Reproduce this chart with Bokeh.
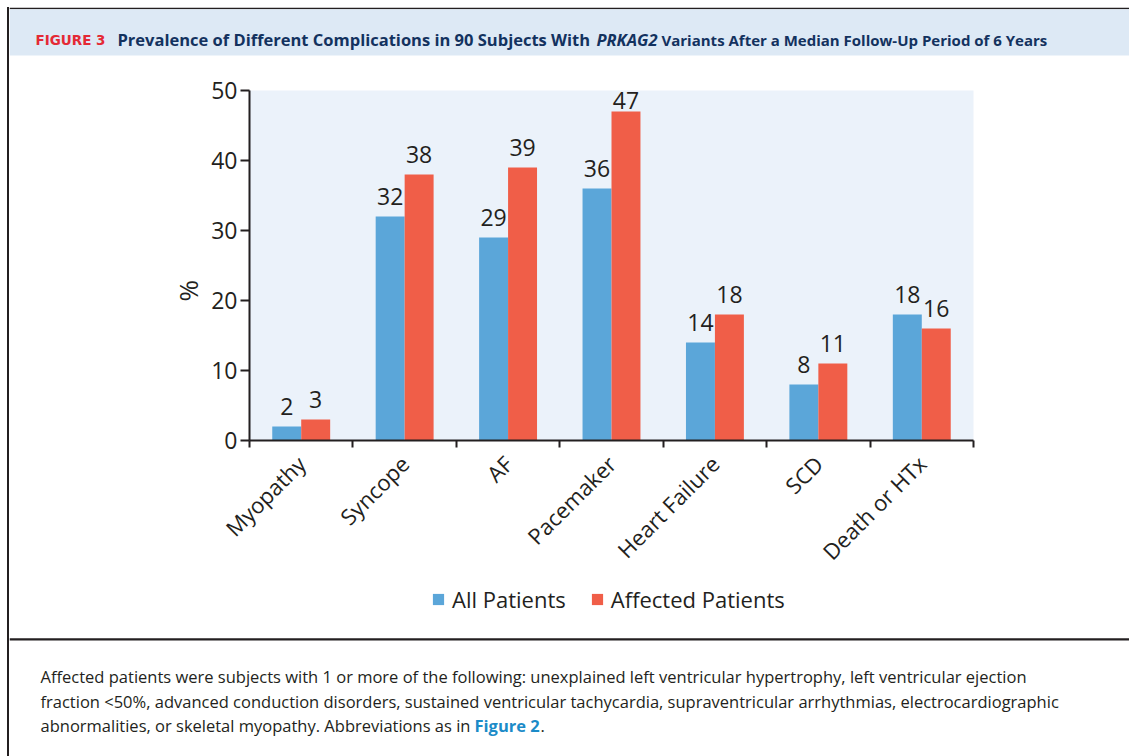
from math import pi
from bokeh.plotting import figure
from bokeh.models import (Range1d, LinearAxis, FixedTicker, Title,
                          ColumnDataSource, LabelSet, Legend, LegendItem, Label)
from bokeh.layouts import column, row
from bokeh.transform import dodge
from bokeh.core.properties import value
from bokeh.embed import file_html
from bokeh.resources import INLINE

# ---------------- data ----------------
categories = ["Myopathy", "Syncope", "AF", "Pacemaker", "Heart Failure", "SCD", "Death or HTx"]
all_patients = [2, 32, 29, 36, 14, 8, 18]
affected_patients = [3, 38, 39, 47, 18, 11, 16]
series_names = ["All Patients", "Affected Patients"]
y_ticks = [0, 10, 20, 30, 40, 50]

title_tag = "FIGURE 3"
title_parts = ["Prevalence of Different Complications in 90 Subjects With",
               "PRKAG2",
               "Variants After a Median Follow-Up Period of 6 Years"]
caption_lines = [
    "Affected patients were subjects with 1 or more of the following: unexplained left ventricular hypertrophy, left ventricular ejection",
    "fraction <50%, advanced conduction disorders, sustained ventricular tachycardia, supraventricular arrhythmias, electrocardiographic",
    "abnormalities, or skeletal myopathy. Abbreviations as in",
]
caption_link = "Figure 2"

# ---------------- styles ----------------
TEXT = "#231f20"
BLUE = "#5ba6d9"
RED = "#f05e48"
NAVY = "#13325f"
TAGRED = "#e42a35"
BAND = "#dde9f5"
PLOTBG = "#ebf2fa"
LINK = "#1b8bc8"
FONT = "Open Sans"
W = 1120


def blank(width, height):
    f = figure(width=width, height=height, x_range=Range1d(0, width), y_range=Range1d(height, 0),
               output_backend="svg", toolbar_location=None, x_axis_location=None,
               y_axis_location=None, min_border=0)
    f.grid.visible = False
    f.outline_line_color = None
    f.background_fill_color = "white"
    f.border_fill_color = "white"
    return f


# ---------------- header ----------------
hdr = blank(W, 51)
hdr.quad(left=0, right=W, top=0, bottom=1.7, color=TEXT, line_color=None)
hdr.quad(left=0, right=W, top=1.7, bottom=48, color=BAND, line_color=None)
hdr.add_layout(Label(x=26, y=32, text=title_tag, text_font="DejaVu Sans", text_font_style="bold",
                     text_font_size="13.5px", text_color=TAGRED, text_baseline="alphabetic"))
hdr.add_layout(Label(x=108, y=32, text=title_parts[0], text_font=FONT, text_font_style="bold",
                     text_font_size="16.5px", text_color=NAVY, text_baseline="alphabetic"))
hdr.add_layout(Label(x=587, y=32, text=title_parts[1], text_font=FONT, text_font_style="bold italic",
                     text_font_size="16.5px", text_color=NAVY, text_baseline="alphabetic"))
hdr.add_layout(Label(x=652, y=32, text=title_parts[2], text_font=FONT, text_font_style="bold",
                     text_font_size="15px", text_color=NAVY, text_baseline="alphabetic"))

# ---------------- main chart ----------------
n = len(categories)
centers = [i + 0.5 for i in range(n)]
edges = list(range(n + 1))
y_top = y_ticks[-1]

p = figure(x_range=Range1d(0, n), y_range=Range1d(0, y_top),
           frame_width=724, frame_height=350,
           output_backend="svg", toolbar_location=None,
           x_axis_location=None, y_axis_location=None,
           min_border_left=240, min_border_right=156, min_border_top=32, min_border_bottom=145)
p.grid.visible = False
p.outline_line_color = None
p.background_fill_color = PLOTBG
p.border_fill_color = "white"

yax = LinearAxis(ticker=FixedTicker(ticks=y_ticks),
                 axis_line_color=TEXT, axis_line_width=2,
                 major_tick_line_color=TEXT, major_tick_line_width=2,
                 major_tick_in=0, major_tick_out=9, minor_tick_line_color=None,
                 major_label_standoff=3, major_label_text_font=FONT,
                 major_label_text_font_size="23px", major_label_text_color=TEXT)
p.add_layout(yax, "left")
p.add_layout(Title(text="%", align="left", offset=139, standoff=5, text_font=FONT,
                   text_font_size="26px", text_font_style="normal", text_color=TEXT), "left")

xt = LinearAxis(ticker=FixedTicker(ticks=edges),
                major_label_overrides={t: "" for t in edges},
                major_label_text_font_size="0px", major_label_standoff=0,
                axis_line_color=TEXT, axis_line_width=2,
                major_tick_line_color=TEXT, major_tick_line_width=2,
                major_tick_in=0, major_tick_out=7, minor_tick_line_color=None)
p.add_layout(xt, "below")

xc = LinearAxis(ticker=FixedTicker(ticks=centers),
                major_label_overrides={c: name for c, name in zip(centers, categories)},
                major_label_orientation=pi / 4, axis_line_color=None,
                major_tick_line_color=None, major_tick_in=0, major_tick_out=0,
                minor_tick_line_color=None,
                major_label_standoff=12, major_label_text_font=FONT,
                major_label_text_font_size="22px", major_label_text_color=TEXT)
p.add_layout(xc, "below")


def label_offsets(vals):
    # labels near the top of the axis are tucked down to stay inside the plot area
    return [3 if (y_top - v) < 5 else 12 for v in vals]


src = ColumnDataSource(dict(
    pos=centers,
    allp=all_patients,
    affp=affected_patients,
    all_lbl=[str(v) for v in all_patients],
    aff_lbl=[str(v) for v in affected_patients],
    all_off=label_offsets(all_patients),
    aff_off=label_offsets(affected_patients),
))

r1 = p.vbar(x=dodge("pos", -0.14), top="allp", width=0.28, source=src,
            fill_color=BLUE, line_color=None)
r2 = p.vbar(x=dodge("pos", 0.14), top="affp", width=0.28, source=src,
            fill_color=RED, line_color=None)

for off, col, lbl, yo in ((-0.14, "allp", "all_lbl", "all_off"), (0.14, "affp", "aff_lbl", "aff_off")):
    p.add_layout(LabelSet(x=dodge("pos", off), y=col, text=lbl, source=src,
                          text_align="center", text_baseline="alphabetic", y_offset=yo,
                          text_font=value(FONT), text_font_size="23px", text_color=TEXT))

# ---------------- legend strip ----------------
leg = blank(W, 51)
# zero-area proxy glyphs that only carry the series colours for the legend keys
k1 = leg.quad(left=[0], right=[0], top=[0], bottom=[0], fill_color=BLUE, line_color=None)
k2 = leg.quad(left=[0], right=[0], top=[0], bottom=[0], fill_color=RED, line_color=None)
legend = Legend(items=[LegendItem(label=value(series_names[0]), renderers=[k1]),
                       LegendItem(label=value(series_names[1]), renderers=[k2])],
                orientation="horizontal", location=(422, 22),
                glyph_width=14, glyph_height=14, label_standoff=7, spacing=24,
                padding=0, margin=0, border_line_color=None, background_fill_alpha=0,
                label_text_font=FONT, label_text_font_size="22px", label_text_color=TEXT)
leg.add_layout(legend)

# ---------------- caption ----------------
cap = blank(W, 120)
cap.quad(left=0, right=W, top=1.7, bottom=3.9, color=TEXT, line_color=None)
for i, t in enumerate(caption_lines):
    cap.add_layout(Label(x=31, y=40 + 24.5 * i, text=t, text_font=FONT, text_font_size="16.5px",
                         text_color=TEXT, text_baseline="alphabetic"))
cap.add_layout(Label(x=465, y=89, text=caption_link, text_font=FONT, text_font_style="bold",
                     text_font_size="16.5px", text_color=LINK, text_baseline="alphabetic"))
cap.add_layout(Label(x=531, y=89, text=".", text_font=FONT, text_font_size="16.5px",
                     text_color=TEXT, text_baseline="alphabetic"))

layout = column(hdr, row(p), leg, cap,
                styles={"margin-left": "7px", "margin-top": "7px",
                        "border-left": "2px solid #231f20"})
open("out.html", "w").write(file_html(layout, INLINE))
